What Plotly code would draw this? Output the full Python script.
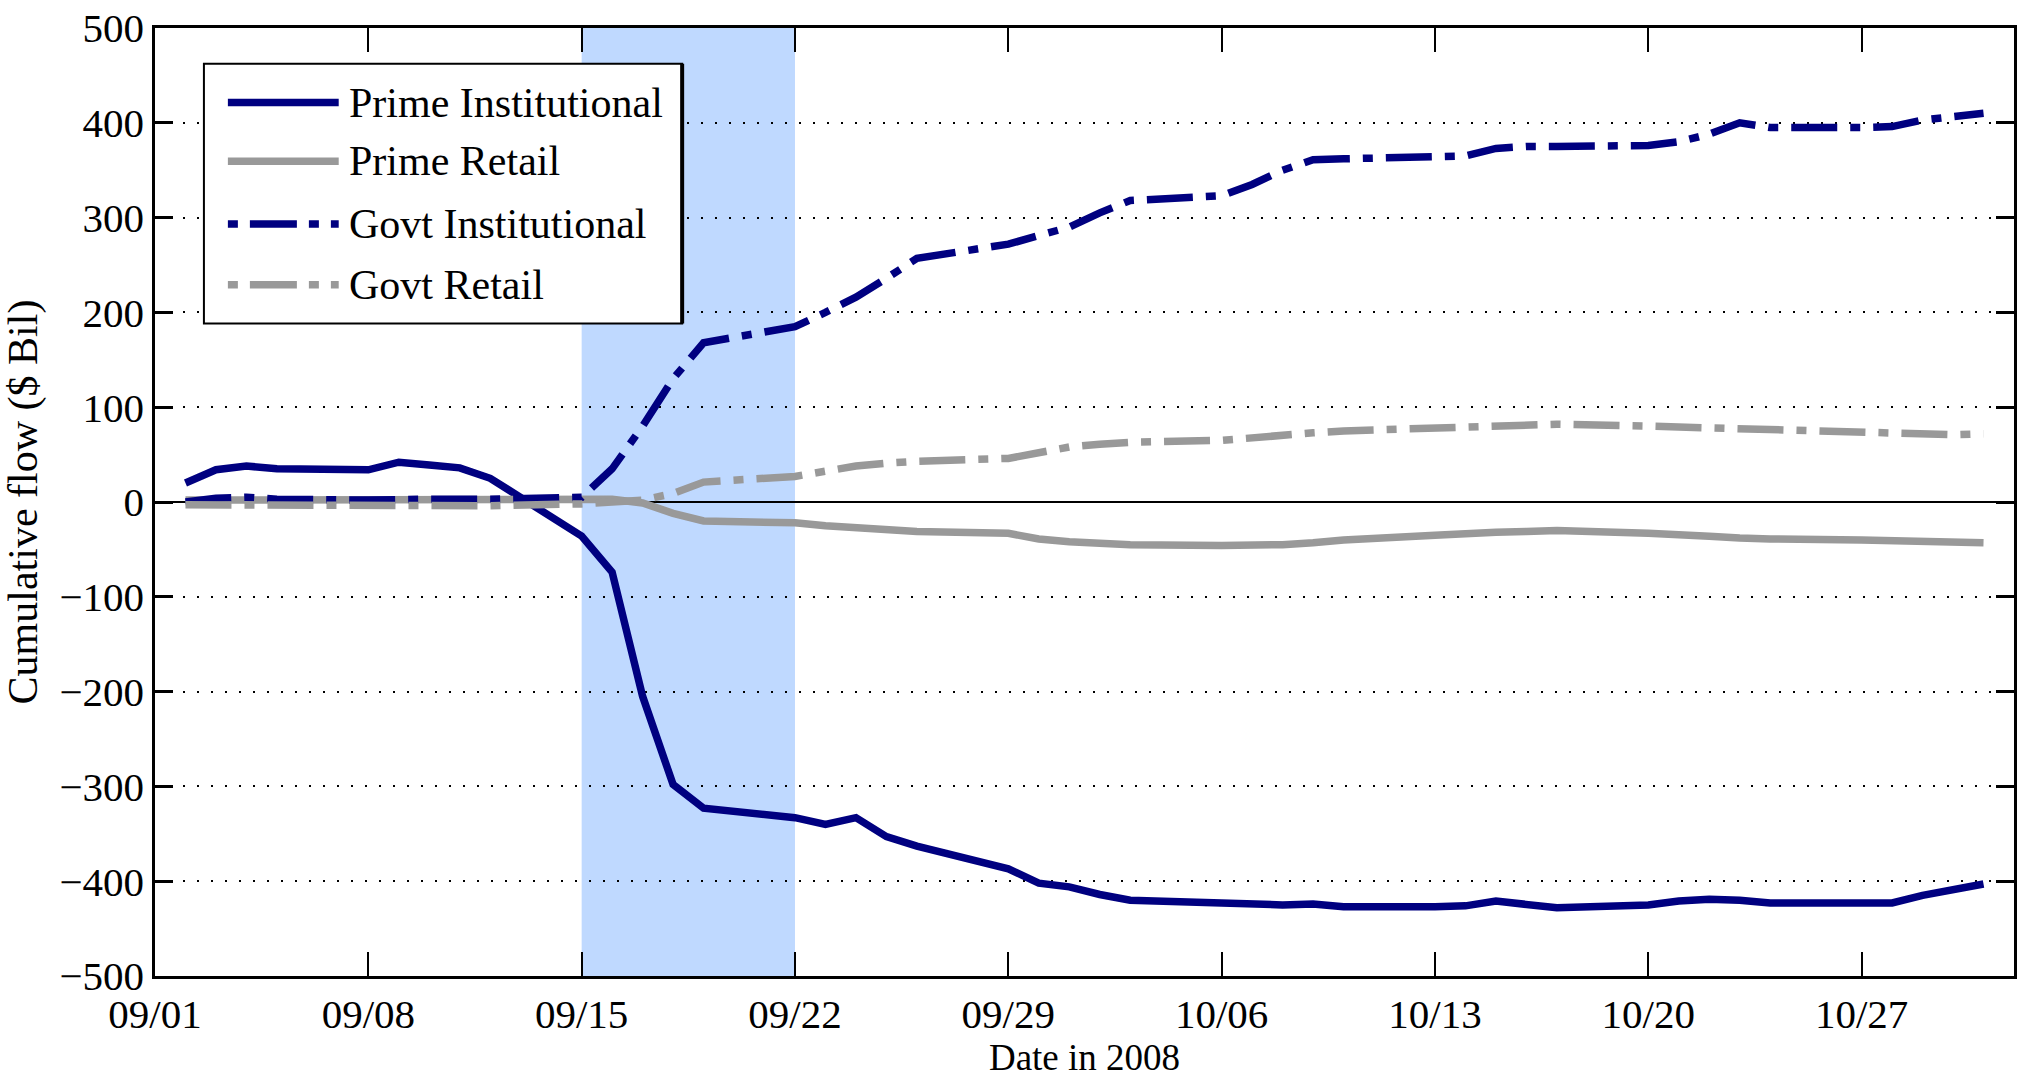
import plotly.graph_objects as go

# Business days, 2 Sep - 31 Oct 2008
dates = [
    "2008-09-02", "2008-09-03", "2008-09-04", "2008-09-05",
    "2008-09-08", "2008-09-09", "2008-09-10", "2008-09-11", "2008-09-12",
    "2008-09-15", "2008-09-16", "2008-09-17", "2008-09-18", "2008-09-19",
    "2008-09-22", "2008-09-23", "2008-09-24", "2008-09-25", "2008-09-26",
    "2008-09-29", "2008-09-30", "2008-10-01", "2008-10-02", "2008-10-03",
    "2008-10-06", "2008-10-07", "2008-10-08", "2008-10-09", "2008-10-10",
    "2008-10-13", "2008-10-14", "2008-10-15", "2008-10-16", "2008-10-17",
    "2008-10-20", "2008-10-21", "2008-10-22", "2008-10-23", "2008-10-24",
    "2008-10-27", "2008-10-28", "2008-10-29", "2008-10-30", "2008-10-31",
]

# Cumulative flows, $ billions
prime_inst = [
    20, 34, 38, 35,
    34, 42, 39, 36, 25,
    -36, -74, -205, -298, -323,
    -333, -340, -333, -353, -363,
    -387, -402, -406, -414, -420,
    -423, -424, -425, -424, -427,
    -427, -426, -421, -425, -428,
    -425, -421, -419, -420, -423,
    -423, -423, -415, -409, -403,
]
prime_retail = [
    2, 2, 2, 2,
    2, 2, 2, 2, 2,
    3, 3, -1, -12, -20,
    -22, -25, -27, -29, -31,
    -33, -39, -42, -44, -45,
    -46, -46, -45, -43, -40,
    -35, -33, -32, -31, -30,
    -33, -34, -36, -38, -39,
    -40, -41, -42, -43, -43,
]
govt_inst = [
    0, 4, 5, 3,
    2, 3, 3, 3, 3,
    5, 35, 80, 130, 168,
    185, 200, 216, 236, 257,
    272, 280, 290, 305, 318,
    323, 335, 350, 361, 362,
    363, 365, 373, 375, 375,
    376, 380, 388, 400, 395,
    395, 396, 403, 406, 410,
]
govt_retail = [
    -3, -3, -4, -4,
    -4, -4, -4, -4, -4,
    -2, 0, 2, 9, 21,
    27, 33, 38, 41, 43,
    46, 53, 58, 61, 63,
    65, 68, 71, 73, 75,
    78, 79, 80, 81, 82,
    80, 79, 78, 77, 76,
    74, 73, 72, 71, 72,
]

tick_dates = ["2008-09-01", "2008-09-08", "2008-09-15", "2008-09-22", "2008-09-29",
              "2008-10-06", "2008-10-13", "2008-10-20", "2008-10-27"]
tick_labels = ["09/01", "09/08", "09/15", "09/22", "09/29",
               "10/06", "10/13", "10/20", "10/27"]
y_ticks = [-500, -400, -300, -200, -100, 0, 100, 200, 300, 400, 500]

series_names = ["Prime Institutional", "Prime Retail", "Govt Institutional", "Govt Retail"]
series_values = [prime_inst, prime_retail, govt_inst, govt_retail]

# Page geometry (pixels)
W, H = 2022, 1078
ML, MR, MT, MB = 155, 5, 23, 102
PW = W - ML - MR
PH = H - MT - MB


def px(x):
    return (x - ML) / PW


def py(y):
    return (H - MB - y) / PH


NAVY = "#000080"
GRAY = "#999999"
SHADE = "rgb(191,217,255)"
DASHDOT = "46px,13px,10px,13px"
FONT = "Liberation Serif, Times New Roman, serif"
LW = 7.5

colors = [NAVY, GRAY, NAVY, GRAY]
dashes = ["solid", "solid", DASHDOT, DASHDOT]

fig = go.Figure()
for name, vals, color, dash in zip(series_names, series_values, colors, dashes):
    fig.add_trace(go.Scatter(
        x=dates, y=vals, mode="lines", name=name,
        line=dict(color=color, width=LW, dash=dash),
        showlegend=False,
    ))

shapes = [
    # crisis week
    dict(type="rect", xref="x", yref="paper", x0="2008-09-15", x1="2008-09-22",
         y0=0, y1=1, fillcolor=SHADE, line=dict(width=0), layer="below"),
    # legend box
    dict(type="rect", xref="paper", yref="paper", x0=px(204), x1=px(683),
         y0=py(320), y1=py(59), fillcolor="white",
         line=dict(color="black", width=2), layer="above"),
    dict(type="line", xref="paper", yref="paper", x0=px(683), x1=px(683),
         y0=py(320), y1=py(59), line=dict(color="black", width=4), layer="above"),
]

legend_rows = [98, 157, 220, 281]
legend_dashes = ["solid", "solid", "10px,12px,47px,12px", "10px,12px,47px,12px"]
annotations = []
for row, name, color, dash in zip(legend_rows, series_names, colors, legend_dashes):
    shapes.append(dict(type="line", xref="paper", yref="paper",
                       x0=px(228), x1=px(339), y0=py(row), y1=py(row),
                       line=dict(color=color, width=LW, dash=dash), layer="above"))
    annotations.append(dict(xref="paper", yref="paper", x=px(347), y=py(row),
                            xanchor="left", yanchor="middle", showarrow=False,
                            text=name, font=dict(family=FONT, size=42, color="black")))

fig.update_layout(
    width=W, height=H,
    margin=dict(l=ML, r=MR, t=MT, b=MB, pad=0),
    paper_bgcolor="white", plot_bgcolor="white",
    font=dict(family=FONT, size=41, color="black"),
    shapes=shapes, annotations=annotations,
    showlegend=False,
)

fig.update_xaxes(
    type="date", range=["2008-09-01", "2008-11-01"],
    tickmode="array", tickvals=tick_dates, ticktext=tick_labels,
    ticks="inside", ticklen=24, tickwidth=2, tickcolor="black",
    showline=True, linewidth=2.5, linecolor="black", mirror="ticks",
    showgrid=False, zeroline=False,
    tickfont=dict(family=FONT, size=41, color="black"),
    title=dict(text="Date in 2008", font=dict(family=FONT, size=37, color="black"), standoff=4),
)
fig.update_yaxes(
    range=[-500, 500], tickmode="array", tickvals=y_ticks,
    ticks="inside", ticklen=18, tickwidth=3, tickcolor="black",
    showline=True, linewidth=2.5, linecolor="black", mirror="ticks",
    showgrid=True, gridcolor="black", gridwidth=2, griddash="2px,12px",
    zeroline=True, zerolinecolor="black", zerolinewidth=2,
    tickfont=dict(family=FONT, size=41, color="black"),
    title=dict(text="Cumulative flow ($ Bil)", font=dict(family=FONT, size=42, color="black"), standoff=12),
)

fig.write_html("out.html")
